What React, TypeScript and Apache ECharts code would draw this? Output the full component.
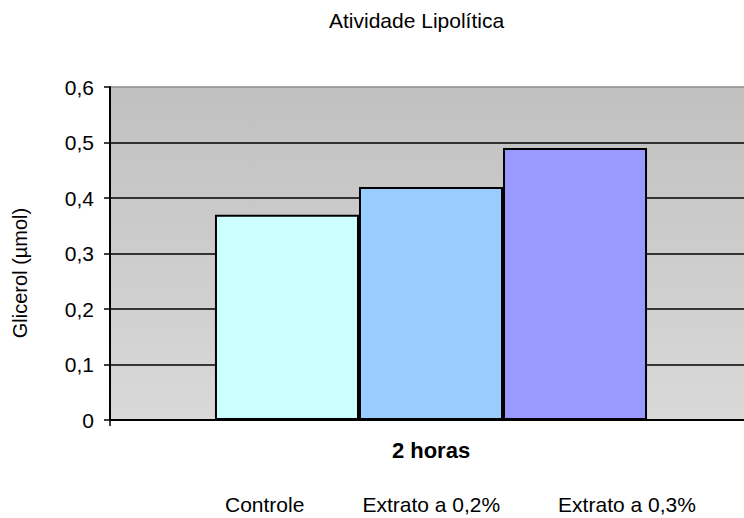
import React, { useEffect, useRef } from "react";
import * as echarts from "echarts";

const categories = ["2 horas"];
const seriesNames = ["Controle", "Extrato a 0,2%", "Extrato a 0,3%"];
const controle = [0.37];
const extrato02 = [0.42];
const extrato03 = [0.49];
const barColors = ["#ccffff", "#99ccff", "#9999ff"];
const FONT = "Arial, 'Liberation Sans', sans-serif";

export default function App() {
  const ref = useRef<HTMLDivElement>(null);
  useEffect(() => {
    if (!ref.current) return;
    const chart = echarts.init(ref.current, undefined, { renderer: "svg" });
    const values = [controle, extrato02, extrato03];
    chart.setOption({
      animation: false,
      textStyle: { fontFamily: FONT },
      title: {
        text: "Atividade Lipolítica",
        left: 324,
        top: 5,
        textStyle: { fontSize: 21, fontWeight: "normal", color: "#000", fontFamily: FONT },
      },
      legend: {
        data: seriesNames,
        left: 219,
        top: 494,
        padding: 0,
        icon: "rect",
        itemWidth: 0,
        itemHeight: 0,
        itemGap: 52,
        textStyle: { fontSize: 21, color: "#000", fontFamily: FONT },
      },
      grid: {
        left: 110,
        right: 0,
        top: 87,
        bottom: 98,
        show: true,
        borderWidth: 0,
        backgroundColor: new echarts.graphic.LinearGradient(0, 0, 0, 1, [
          { offset: 0, color: "#c0c0c0" },
          { offset: 1, color: "#d9d9d9" },
        ]),
      },
      xAxis: {
        type: "category",
        data: categories,
        axisLine: { show: true, lineStyle: { color: "#000", width: 2 } },
        axisTick: { show: true, length: 6, lineStyle: { color: "#000", width: 1.5 } },
        axisLabel: {
          margin: 19,
          fontSize: 22,
          fontWeight: "bold",
          color: "#000",
          fontFamily: FONT,
        },
      },
      yAxis: {
        type: "value",
        min: 0,
        max: 0.6,
        interval: 0.1,
        axisLine: { show: true, lineStyle: { color: "#000", width: 2 } },
        axisTick: { show: true, length: 6, lineStyle: { color: "#000", width: 1.5 } },
        axisLabel: {
          margin: 16,
          fontSize: 21,
          color: "#000",
          fontFamily: FONT,
          formatter: (v: number) => (v === 0 ? "0" : v.toFixed(1).replace(".", ",")),
        },
        splitLine: {
          show: true,
          lineStyle: {
            color: ["#000", "#000", "#000", "#000", "#000", "#000", "#8c8c8c"],
            width: 1.5,
          },
        },
      },
      graphic: [
        {
          type: "text",
          x: 20,
          y: 273,
          rotation: Math.PI / 2,
          style: {
            text: "Glicerol (µmol)",
            fontSize: 20,
            fontFamily: FONT,
            fill: "#000",
            align: "center",
            verticalAlign: "middle",
          },
        },
      ],
      series: seriesNames.map((name, i) => ({
        name,
        type: "bar",
        data: values[i],
        barGap: "0%",
        barCategoryGap: "32.7%",
        itemStyle: { color: barColors[i], borderColor: "#000", borderWidth: 2 },
      })),
    });
    return () => chart.dispose();
  }, []);
  return (
    <div
      style={{
        position: "absolute",
        left: 0,
        top: 0,
        width: 744,
        height: 518,
        overflow: "hidden",
      }}
    >
      <div ref={ref} style={{ width: 752, height: 518 }} />
    </div>
  );
}
